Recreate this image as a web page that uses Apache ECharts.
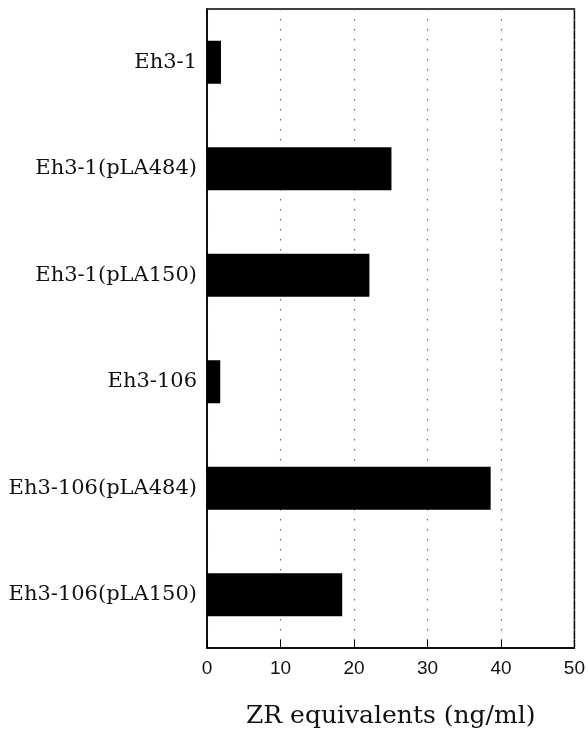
<!DOCTYPE html>
<html>
<head>
<meta charset="utf-8">
<script src="https://cdn.jsdelivr.net/npm/echarts@6/dist/echarts.min.js"></script>
<style>
  html, body { margin: 0; padding: 0; background: #fff; }
  #chart { width: 588px; height: 737px; }
</style>
</head>
<body>
<div id="chart"></div>
<script>
// Strains, top to bottom
const strains = [
  'Eh3-1',
  'Eh3-1(pLA484)',
  'Eh3-1(pLA150)',
  'Eh3-106',
  'Eh3-106(pLA484)',
  'Eh3-106(pLA150)'
];
// ZR equivalents, ng/ml
const zrValues = [1.9, 25.1, 22.1, 1.8, 38.6, 18.4];
const xTicks = [0, 10, 20, 30, 40, 50];

const chart = echarts.init(document.getElementById('chart'));
chart.setOption({
  animation: false,
  grid: {
    left: 207, right: 12, top: 9, bottom: 89,
    show: true, borderColor: '#000', borderWidth: 1.5, backgroundColor: 'transparent'
  },
  xAxis: {
    type: 'value',
    min: xTicks[0], max: xTicks[xTicks.length - 1], interval: 10,
    name: 'ZR equivalents (ng/ml)',
    nameLocation: 'middle',
    nameGap: 56,
    nameTextStyle: { fontFamily: 'DejaVu Serif', fontSize: 25, color: '#111' },
    axisLine: { show: true, lineStyle: { color: '#000', width: 1.5 } },
    axisTick: { show: true, inside: true, length: 8, lineStyle: { color: '#000', width: 1 } },
    axisLabel: { fontFamily: 'Liberation Sans', fontSize: 19, color: '#111', margin: 11 },
    splitLine: { show: true, lineStyle: { color: '#666', type: [1.5, 8.5], width: 1.2 } }
  },
  yAxis: {
    type: 'category',
    data: strains,
    inverse: true,
    axisLine: { show: true, lineStyle: { color: '#000', width: 1.5 } },
    axisTick: { show: false },
    axisLabel: { fontFamily: 'DejaVu Serif', fontSize: 21, color: '#111', margin: 10 }
  },
  series: [{
    type: 'bar',
    data: zrValues,
    barWidth: 43,
    itemStyle: { color: '#000' }
  }]
});
</script>
</body>
</html>
